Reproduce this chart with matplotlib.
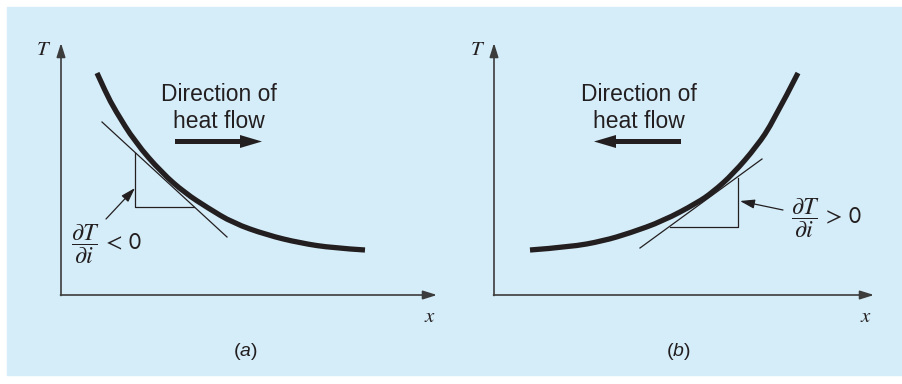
import matplotlib.pyplot as plt
from matplotlib.patches import Rectangle, PathPatch
from matplotlib.path import Path

plt.rcParams['mathtext.fontset'] = 'custom'
plt.rcParams['mathtext.rm'] = 'Liberation Sans'
plt.rcParams['mathtext.it'] = 'Liberation Sans:italic'

# everything is placed in pixel units of the 902x384 picture
bg = '#d5edf9'
ink = '#231f20'
axc = '#3c3c3c'

# curve (a): temperature falling with x
curve_a_x = [97, 106, 115, 135, 162, 185, 208, 233, 267, 300, 333, 365]
curve_a_y = [73, 93, 110, 142, 173, 193, 208, 223, 235, 243, 248, 250]
# curve (b): temperature rising with x
curve_b_x = [530, 570, 603, 630, 663, 697, 713, 733, 757, 773, 798]
curve_b_y = [250, 247, 241, 233, 221, 203, 192, 174, 146, 122, 73]

# tangent lines and slope triangles
tan_a = [(102, 122), (227, 237)]
tri_a = [(135, 153), (135, 207), (194, 207)]
tan_b = [(640, 248), (762, 159)]
tri_b = [(670, 227), (738, 227), (738, 178)]

# origin and tips of the two coordinate frames
origins = [(61, 295), (494, 295)]
x_tips = [437, 874]
y_tip = 43
panel_names = ['(a)', '(b)']
panel_cx = [245, 678]
axis_lbl_T = [44, 478]
axis_lbl_x = [430, 866]

flow_text_cx = [219, 639]
flow_arrows = [(175, 262), (681, 594)]

slope_labels = [r'$\dfrac{\partial T}{\partial i}\,<\,\mathsf{0}$',
                r'$\dfrac{\partial T}{\partial i}\,>\,\mathsf{0}$']
slope_lbl_pos = [(71, 244), (791, 218)]
slope_arrows = [((106, 219), (135, 188)), ((783, 210), (740, 201))]


def smooth_path(xs, ys):
    # quadratic b-spline path guided by the read points
    pts = list(zip(xs, ys))
    verts = [pts[0]]
    codes = [Path.MOVETO]
    for i in range(1, len(pts) - 1):
        if i == len(pts) - 2:
            end = pts[-1]
        else:
            end = ((pts[i][0] + pts[i + 1][0]) / 2, (pts[i][1] + pts[i + 1][1]) / 2)
        verts += [pts[i], end]
        codes += [Path.CURVE3, Path.CURVE3]
    return Path(verts, codes)


fig = plt.figure(figsize=(9.02, 3.84), dpi=100)
ax = fig.add_axes([0, 0, 1, 1])
ax.set_xlim(0, 902)
ax.set_ylim(384, 0)
ax.axis('off')

ax.add_patch(Rectangle((7, 7), 895, 368, color=bg, zorder=0))

for i in range(2):
    ox, oy = origins[i]
    ap = dict(arrowstyle='-|>,head_length=0.7,head_width=0.22', color=axc,
              lw=1.2, mutation_scale=12, shrinkA=0, shrinkB=0)
    ax.annotate('', xy=(ox, y_tip), xytext=(ox, oy + 0.5), arrowprops=ap)
    ax.annotate('', xy=(x_tips[i], oy), xytext=(ox - 0.5, oy), arrowprops=ap)
    ax.text(axis_lbl_T[i], 49, '$T$', math_fontfamily='stix', fontsize=15,
            ha='center', va='center', color=ink)
    ax.text(axis_lbl_x[i], 316, '$x$', math_fontfamily='stix', fontsize=15,
            ha='center', va='center', color=ink)
    ax.text(panel_cx[i], 352, panel_names[i][0] + r'$\mathit{' + panel_names[i][1] + '}$)',
            fontfamily='Liberation Sans', fontsize=14, ha='center', va='center', color=ink)

    ax.text(flow_text_cx[i], 101, 'Direction of', fontfamily='Liberation Sans',
            fontsize=16.5, ha='center', va='baseline', color=ink)
    ax.text(flow_text_cx[i], 128, 'heat flow', fontfamily='Liberation Sans',
            fontsize=16.5, ha='center', va='baseline', color=ink)
    x0, x1 = flow_arrows[i]
    ax.arrow(x0, 141.5, x1 - x0, 0, width=5, head_width=13, head_length=22,
             length_includes_head=True, color=ink, lw=0)

    ax.text(slope_lbl_pos[i][0], slope_lbl_pos[i][1], slope_labels[i],
            math_fontfamily='stix', fontsize=17.5, ha='left', va='center', color=ink)
    tail, tip = slope_arrows[i]
    ax.annotate('', xy=tip, xytext=tail,
                arrowprops=dict(arrowstyle='-|>,head_length=0.8,head_width=0.25',
                                color=ink, lw=0.9, mutation_scale=11,
                                shrinkA=0, shrinkB=0))

for cx, cy in [(curve_a_x, curve_a_y), (curve_b_x, curve_b_y)]:
    ax.add_patch(PathPatch(smooth_path(cx, cy), fill=False, lw=3.8,
                           edgecolor=ink, capstyle='butt', zorder=3))

for tan, tri in [(tan_a, tri_a), (tan_b, tri_b)]:
    ax.plot([p[0] for p in tan], [p[1] for p in tan], color=ink, lw=0.9)
    ax.plot([p[0] for p in tri], [p[1] for p in tri], color=ink, lw=0.9)

fig.savefig('out.png', dpi=100, facecolor='white')
